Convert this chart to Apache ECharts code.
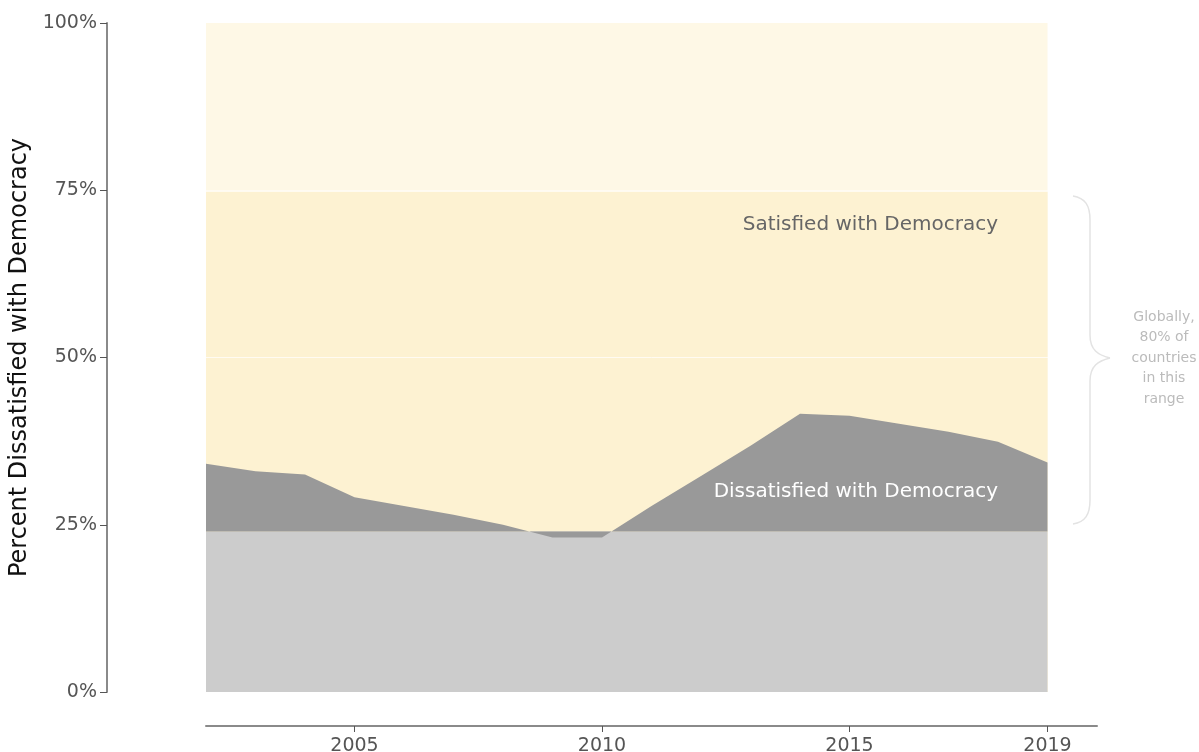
<!DOCTYPE html>
<html>
<head>
<meta charset="utf-8">
<script src="https://cdn.jsdelivr.net/npm/echarts@6/dist/echarts.min.js"></script>
<style>
  html, body { margin: 0; padding: 0; background: #fff; }
  #main { width: 1199px; height: 752px; }
</style>
</head>
<body>
<div id="main"></div>
<script>
// data
var years = [2002, 2003, 2004, 2005, 2006, 2007, 2008, 2009, 2010, 2011, 2012, 2013, 2014, 2015, 2016, 2017, 2018, 2019];
var dissatisfied = [34.1, 33.0, 32.5, 29.1, 27.8, 26.5, 25.0, 23.1, 23.1, 27.8, 32.3, 36.8, 41.6, 41.3, 40.1, 38.9, 37.4, 34.3];
var bandTop = [100, 100];      // whole scale
var bandRange = [75, 75];      // top of the 80% range
var bandFloor = [24, 24];      // bottom of the 80% range
var xTickLabels = [2005, 2010, 2015, 2019];

var myChart = echarts.init(document.getElementById('main'));

function flat(vals) {
    return [[years[0], vals[0]], [years[years.length - 1], vals[1]]];
}

var font = 'DejaVu Sans';
var braceStyle = { fill: 'none', stroke: '#e3e3e3', lineWidth: 1.5 };

var option = {
    animation: false,
    textStyle: { fontFamily: font },
    grid: {
        left: 206,
        right: 102,
        top: 23,
        bottom: 60,
        containLabel: false,
        outerBoundsMode: 'none'
    },
    xAxis: {
        type: 'value',
        min: 2002,
        max: 2020,
        offset: 34,
        axisLine: { show: true, onZero: false, lineStyle: { color: '#8a8a8a', width: 2 } },
        axisTick: {
            show: true,
            length: 6,
            customValues: xTickLabels,
            lineStyle: { color: '#555', width: 1 }
        },
        axisLabel: {
            customValues: xTickLabels,
            color: '#555',
            fontSize: 19,
            fontFamily: font,
            margin: 11,
            formatter: function (v) { return String(v); }
        },
        splitLine: { show: false }
    },
    yAxis: {
        type: 'value',
        min: 0,
        max: 100,
        interval: 25,
        offset: 99,
        name: 'Percent Dissatisfied with Democracy',
        nameLocation: 'middle',
        nameGap: 69,
        nameTextStyle: { color: '#111', fontSize: 24, fontFamily: font },
        axisLine: { show: true, lineStyle: { color: '#8a8a8a', width: 2 } },
        axisTick: { show: true, length: 7, lineStyle: { color: '#555', width: 1 } },
        axisLabel: {
            color: '#555',
            fontSize: 19,
            fontFamily: font,
            margin: 10,
            formatter: '{value}%'
        },
        splitLine: { show: false }
    },
    series: [
        {
            name: 'top',
            type: 'line',
            data: flat(bandTop),
            symbol: 'none',
            lineStyle: { width: 0 },
            areaStyle: { color: '#fef8e6', opacity: 1 },
            z: 1
        },
        {
            name: 'range',
            type: 'line',
            data: flat(bandRange),
            symbol: 'none',
            lineStyle: { width: 0 },
            areaStyle: { color: '#fdf2d2', opacity: 1 },
            markLine: {
                silent: true,
                symbol: 'none',
                label: { show: false },
                lineStyle: { color: '#ffffff', width: 1.5, type: 'solid', opacity: 0.9 },
                data: [{ yAxis: 75 }, { yAxis: 50, lineStyle: { width: 1, opacity: 0.7 } }]
            },
            z: 2
        },
        {
            name: 'floor',
            type: 'line',
            data: flat(bandFloor),
            symbol: 'none',
            lineStyle: { width: 0 },
            areaStyle: { color: '#cccccc', opacity: 1 },
            z: 3
        },
        {
            name: 'Dissatisfied',
            type: 'line',
            data: years.map(function (y, i) { return [y, dissatisfied[i]]; }),
            symbol: 'none',
            lineStyle: { width: 0 },
            areaStyle: { color: '#999999', opacity: 1, origin: bandFloor[0] },
            z: 4
        }
    ],
    graphic: [
        {
            type: 'text',
            x: 998,
            y: 225,
            z: 10,
            style: {
                text: 'Satisfied with Democracy',
                fill: '#666',
                font: '20px "DejaVu Sans"',
                align: 'right',
                verticalAlign: 'middle'
            }
        },
        {
            type: 'text',
            x: 998,
            y: 492,
            z: 10,
            style: {
                text: 'Dissatisfied with Democracy',
                fill: '#fff',
                font: '20px "DejaVu Sans"',
                align: 'right',
                verticalAlign: 'middle'
            }
        },
        // brace
        { type: 'bezierCurve', z: 10, shape: { x1: 1073, y1: 196, cpx1: 1085, cpy1: 198, cpx2: 1090, cpy2: 205, x2: 1090, y2: 220 }, style: braceStyle },
        { type: 'line', z: 10, shape: { x1: 1090, y1: 220, x2: 1090, y2: 335 }, style: braceStyle },
        { type: 'bezierCurve', z: 10, shape: { x1: 1090, y1: 335, cpx1: 1090, cpy1: 350, cpx2: 1098, cpy2: 355, x2: 1110, y2: 358 }, style: braceStyle },
        { type: 'bezierCurve', z: 10, shape: { x1: 1110, y1: 358, cpx1: 1098, cpy1: 361, cpx2: 1090, cpy2: 366, x2: 1090, y2: 381 }, style: braceStyle },
        { type: 'line', z: 10, shape: { x1: 1090, y1: 381, x2: 1090, y2: 500 }, style: braceStyle },
        { type: 'bezierCurve', z: 10, shape: { x1: 1090, y1: 500, cpx1: 1090, cpy1: 515, cpx2: 1085, cpy2: 522, x2: 1073, y2: 524 }, style: braceStyle },
        {
            type: 'text',
            x: 1164,
            y: 358,
            z: 10,
            style: {
                text: 'Globally,\n80% of\ncountries\nin this\nrange',
                fill: '#bbbbbb',
                font: '14px "DejaVu Sans"',
                lineHeight: 20.5,
                align: 'center',
                verticalAlign: 'middle'
            }
        }
    ]
};

myChart.setOption(option);
</script>
</body>
</html>
